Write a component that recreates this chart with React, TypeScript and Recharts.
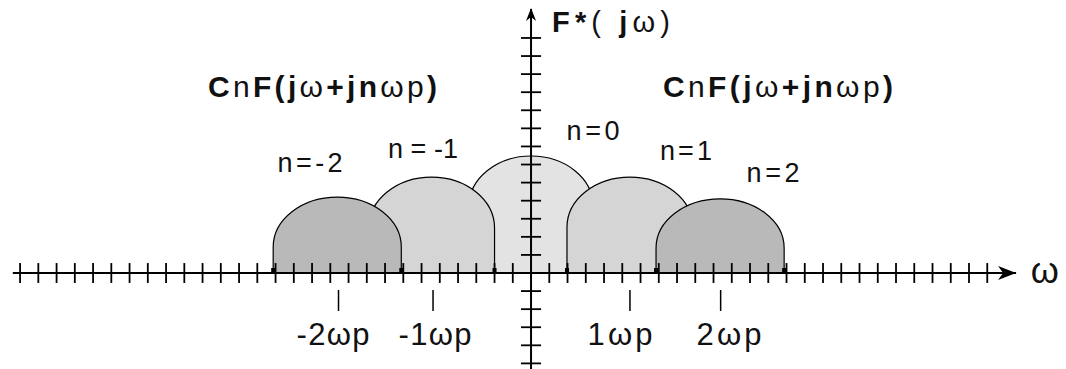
import React from "react"
import { ComposedChart, XAxis, YAxis, ReferenceArea, ReferenceLine, ReferenceDot } from "recharts"

// sampled spectrum: shifted copies CnF(jω + jnωp), one hump per order n
const orders = [-2, -1, 0, 1, 2]
const centers = [-10.62, -5.45, 0, 5.42, 10.36]
const halfWidths = [3.51, 3.45, 3.4, 3.45, 3.51]
const peaks = [4.2, 5.31, 6.47, 5.31, 4.1]
const shoulders = [1.44, 2.49, 3.7, 2.54, 1.38]
const fills = ["#b9b9b9", "#d5d5d5", "#e3e3e3", "#d5d5d5", "#b9b9b9"]

// multiples of the sampling frequency marked under the ω axis
const omegaTicks = [-10.55, -5.37, 5.42, 10.39]
const omegaLabels = ["-2ωp", "-1ωp", "1ωp", "2ωp"]

// axis ruler ticks (one unit apart)
const xTicks = Array.from({ length: 54 }, (_, i) => i - 28).filter((v) => v !== 0)
const yTicks = Array.from({ length: 19 }, (_, i) => i - 5).filter((v) => v !== 0)

const X_DOMAIN: [number, number] = [-29.1, 29.315]
const Y_DOMAIN: [number, number] = [-5.31, 15.1]
const FONT = "'Liberation Sans', Arial, sans-serif"

type Part = { t: string; b?: boolean }

const titleParts: Part[] = [{ t: "F*", b: true }, { t: "( " }, { t: "j", b: true }, { t: "ω)" }]
const formulaParts: Part[] = [
  { t: "C", b: true },
  { t: "n" },
  { t: "F(j", b: true },
  { t: "ω" },
  { t: "+jn", b: true },
  { t: "ωp" },
  { t: ")", b: true },
]

// draw order: centre copy first, outer copies on top
const drawOrder = [2, 1, 3, 0, 4]

const Hump = (props: any) => {
  const { x, y, width, height, ratio, fill } = props
  const bottom = y + height
  const sh = bottom - height * ratio
  const rx = width / 2
  const ry = sh - y
  const d = `M${x},${bottom} L${x},${sh} A${rx},${ry} 0 0 1 ${x + width},${sh} L${x + width},${bottom}`
  return (
    <g>
      <path d={d + " Z"} fill={fill} stroke="none" />
      <path d={d} fill="none" stroke="#000" strokeWidth={1.2} />
      <rect x={x - 2} y={bottom - 5} width={4} height={5} fill="#000" />
      <rect x={x + width - 2} y={bottom - 5} width={4} height={5} fill="#000" />
    </g>
  )
}

const RichText = (props: any) => {
  const { cx, cy, parts, size, width, anchor } = props
  return (
    <text
      x={cx}
      y={cy}
      fontFamily={FONT}
      fontSize={size}
      textLength={width}
      lengthAdjust="spacing"
      textAnchor={anchor}
      fill="#111"
    >
      {parts.map((p: Part, i: number) => (
        <tspan key={i} fontWeight={p.b ? 700 : 400}>
          {p.t}
        </tspan>
      ))}
    </text>
  )
}

const orderLabelPos = [
  { x: -12.11, y: 5.59, w: 65 },
  { x: -5.92, y: 6.36, w: 70 },
  { x: 3.4, y: 7.36, w: 53 },
  { x: 8.49, y: 6.25, w: 52 },
  { x: 13.26, y: 5.03, w: 53 },
]
const omegaLabelPos = [-10.85, -5.26, 4.88, 10.85]

export default function App() {
  return (
    <div style={{ position: "absolute", left: 0, top: 0, background: "#fff" }}>
      <ComposedChart width={1066} height={369} margin={{ top: 0, right: 0, bottom: 0, left: 0 }}>
        <XAxis type="number" dataKey="x" domain={X_DOMAIN} allowDataOverflow hide />
        <YAxis type="number" domain={Y_DOMAIN} allowDataOverflow hide />

        {drawOrder.map((i) => (
          <ReferenceArea
            key={`hump-${orders[i]}`}
            x1={centers[i] - halfWidths[i]}
            x2={centers[i] + halfWidths[i]}
            y1={0}
            y2={peaks[i]}
            ifOverflow="visible"
            shape={(p: any) => <Hump {...p} ratio={shoulders[i] / peaks[i]} fill={fills[i]} />}
          />
        ))}

        {/* ω axis with ruler ticks */}
        <ReferenceLine
          segment={[{ x: -28.4, y: 0 }, { x: 26.58, y: 0 }]}
          stroke="#000"
          strokeWidth={2}
          ifOverflow="visible"
        />
        {xTicks.map((t) => (
          <ReferenceLine
            key={`xt-${t}`}
            segment={[{ x: t, y: -0.55 }, { x: t, y: 0.55 }]}
            stroke="#000"
            strokeWidth={1.8}
            ifOverflow="visible"
          />
        ))}
        {/* F*(jω) axis */}
        <ReferenceLine
          segment={[{ x: 0, y: -5.31 }, { x: 0, y: 14.6 }]}
          stroke="#000"
          strokeWidth={2}
          ifOverflow="visible"
        />
        {yTicks.map((t) => (
          <ReferenceLine
            key={`yt-${t}`}
            segment={[{ x: -0.55, y: t }, { x: 0.55, y: t }]}
            stroke="#000"
            strokeWidth={1.8}
            ifOverflow="visible"
          />
        ))}
        {omegaTicks.map((t) => (
          <ReferenceLine
            key={`wt-${t}`}
            segment={[{ x: t, y: -0.94 }, { x: t, y: -2.1 }]}
            stroke="#000"
            strokeWidth={1.5}
            ifOverflow="visible"
          />
        ))}

        {/* arrow heads */}
        <ReferenceDot
          x={26.58}
          y={0}
          r={1}
          ifOverflow="visible"
          shape={(p: any) => (
            <path
              d={`M${p.cx},${p.cy} L${p.cx - 18},${p.cy - 7} L${p.cx - 13},${p.cy} L${p.cx - 18},${p.cy + 7} Z`}
              fill="#000"
            />
          )}
        />
        <ReferenceDot
          x={0}
          y={14.66}
          r={1}
          ifOverflow="visible"
          shape={(p: any) => (
            <path
              d={`M${p.cx},${p.cy} L${p.cx - 5},${p.cy + 13} L${p.cx},${p.cy + 9} L${p.cx + 5},${p.cy + 13} Z`}
              fill="#000"
            />
          )}
        />

        {/* axis names and formulas */}
        <ReferenceDot
          x={1.15}
          y={13.33}
          r={1}
          ifOverflow="visible"
          shape={(p: any) => <RichText {...p} parts={titleParts} size={29} width={118} anchor="start" />}
        />
        <ReferenceDot
          x={-17.7}
          y={9.73}
          r={1}
          ifOverflow="visible"
          shape={(p: any) => <RichText {...p} parts={formulaParts} size={30} width={229} anchor="start" />}
        />
        <ReferenceDot
          x={7.23}
          y={9.73}
          r={1}
          ifOverflow="visible"
          shape={(p: any) => <RichText {...p} parts={formulaParts} size={30} width={230} anchor="start" />}
        />
        <ReferenceDot
          x={28.16}
          y={-0.55}
          r={1}
          ifOverflow="visible"
          shape={(p: any) => <RichText {...p} parts={[{ t: "ω" }]} size={36} width={24} anchor="middle" />}
        />

        {orders.map((n, i) => (
          <ReferenceDot
            key={`lbl-${n}`}
            x={orderLabelPos[i].x}
            y={orderLabelPos[i].y}
            r={1}
            ifOverflow="visible"
            shape={(p: any) => (
              <RichText
                {...p}
                parts={[{ t: n === -1 ? `n = ${n}` : `n=${n}` }]}
                size={27}
                width={orderLabelPos[i].w}
                anchor="middle"
              />
            )}
          />
        ))}

        {omegaLabels.map((label, i) => (
          <ReferenceDot
            key={`wl-${label}`}
            x={omegaLabelPos[i]}
            y={-3.98}
            r={1}
            ifOverflow="visible"
            shape={(p: any) => (
              <RichText {...p} parts={[{ t: label }]} size={31} width={i < 2 ? 73 : 65} anchor="middle" />
            )}
          />
        ))}
      </ComposedChart>
    </div>
  )
}
